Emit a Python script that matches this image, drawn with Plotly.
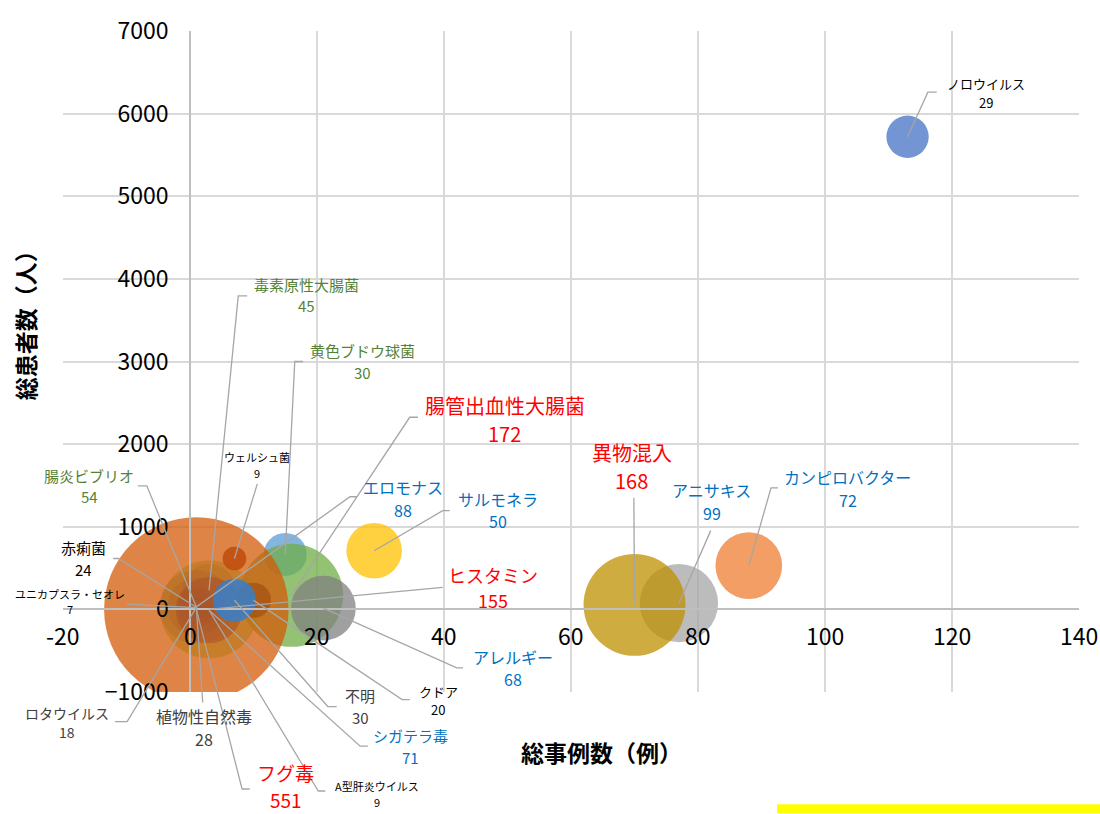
import plotly.graph_objects as go

# ---------------- data ----------------
names = ["ノロウイルス", "カンピロバクター", "アニサキス", "サルモネラ", "黄色ブドウ球菌",
         "腸管出血性大腸菌", "異物混入", "アレルギー", "フグ毒", "ヒスタミン",
         "エロモナス", "シガテラ毒", "腸炎ビブリオ", "毒素原性大腸菌", "植物性自然毒",
         "赤痢菌", "ロタウイルス", "A型肝炎ウイルス", "ユニカプスラ・セオレ", "クドア",
         "不明", "ウェルシュ菌"]
cases = [113, 88, 77, 29, 15, 16, 70, 21, 1, 3, 1, 3, 1, 3, 1, 1, 1, 3, 1, 10, 7, 7]
patients = [5720, 530, 75, 710, 665, 170, 55, 15, 0, 0, 30, -10, 30, 230, 30,
            25, 25, -10, 20, 110, 110, 615]
bubble_values = [29, 72, 99, 50, 30, 172, 168, 68, 551, 155, 88, 71, 54, 45, 28,
                 24, 18, 9, 7, 20, 30, 9]

x_ticks = [-20, 0, 20, 40, 60, 80, 100, 120, 140]
y_ticks = [-1000, 0, 1000, 2000, 3000, 4000, 5000, 6000, 7000]

# ---------------- styles ----------------
bubble_colors = ["rgba(68,114,196,0.75)", "rgba(237,125,49,0.75)", "rgba(165,165,165,0.75)",
                 "rgba(255,192,0,0.75)", "rgba(91,155,213,0.75)", "rgba(112,173,71,0.75)",
                 "rgba(191,144,0,0.75)", "rgba(128,128,128,0.75)", "rgba(211,91,8,0.75)",
                 "rgba(180,120,20,0.55)", "rgba(170,95,40,0.3)", "rgba(170,75,40,0.5)",
                 "rgba(170,85,40,0.2)", "rgba(170,85,40,0.2)", "rgba(170,85,40,0.2)",
                 "rgba(170,85,40,0.2)", "rgba(170,85,40,0.2)", "rgba(170,85,40,0.2)",
                 "rgba(170,85,40,0.2)", "rgba(158,72,14,0.6)", "rgba(60,125,195,0.9)",
                 "rgba(190,75,10,0.85)"]

RED, BLUE, GREEN, BLACK, DGRAY = "#FF0000", "#0070C0", "#548235", "#000000", "#404040"
label_colors = [BLACK, BLUE, BLUE, BLUE, GREEN, RED, RED, BLUE, RED, RED,
                BLUE, BLUE, GREEN, GREEN, DGRAY, BLACK, DGRAY, BLACK, BLACK, BLACK,
                DGRAY, BLACK]
label_sizes = [13, 16, 16, 16, 15, 20, 20, 16, 19, 18,
               16, 15, 15, 15, 16, 15, 14, 11, 11, 13,
               15, 11]
# label block centres (data units)
label_x = [125.4, 103.6, 82.2, 48.5, 27.1, 49.6, 69.6, 50.9, 15.1, 47.7,
           33.5, 34.8, -15.9, 18.4, 2.2, -16.7, -19.4, 29.4, -18.9, 39.1,
           26.8, 10.6]
label_y = [6250, 1460, 1305, 1205, 3000, 2300, 1725, -710, -2140, 265,
           1340, -1660, 1495, 3805, -1430, 615, -1370, -2235, 95, -1105,
           -1175, 1750]
# leader-line points on the label side (data units), then to the bubble centre
leader_pts = [
    [(117.6, 6260), (116.2, 6260)],
    [(92.6, 1470), (91.5, 1470)],
    [(82.0, 953)],
    [(40.9, 1195), (39.8, 1195)],
    [(17.8, 3000), (16.5, 3000)],
    [(35.9, 2325), (34.6, 2325)],
    [(69.9, 1350)],
    [(43.0, -708), (42.0, -708)],
    [(9.4, -2174), (8.2, -2174)],
    [(39.8, 267)],
    [(26.3, 1363), (25.2, 1363)],
    [(28.0, -1656), (26.8, -1656)],
    [(-8.2, 1495), (-6.8, 1495)],
    [(9.0, 3794), (7.6, 3794)],
    [(2.0, -1127)],
    [(-12.1, 616), (-11.3, 616)],
    [(-11.8, -1358), (-9.9, -1358)],
    [(21.3, -2198), (20.2, -2198)],
    [(-9.9, 63)],
    [(34.6, -1092), (33.4, -1092)],
    [(23.1, -1176), (21.7, -1176)],
    [(10.6, 1519)],
]

X_RANGE = [-20, 140]
Y_RANGE = [-1000, 7000]
FONT = "Noto Sans CJK JP"
PLOT_H = 665  # plot-area height in px
LINE_GAP = 1.42  # distance between the name line and the value line, in em


def fx(v):
    return (v - X_RANGE[0]) / (X_RANGE[1] - X_RANGE[0])


def fy(v):
    return (v - Y_RANGE[0]) / (Y_RANGE[1] - Y_RANGE[0])


K = 3.93  # px radius per sqrt(value)

fig = go.Figure()
fig.add_trace(go.Scatter(
    x=cases, y=patients, mode="markers",
    marker=dict(size=bubble_values, sizemode="area", sizeref=1.0 / (2 * K * K),
                color=bubble_colors, opacity=1, line=dict(width=0)),
    text=names, hoverinfo="text+x+y", cliponaxis=True, showlegend=False,
))

shapes = []
for i, pts in enumerate(leader_pts):
    path_pts = list(pts) + [(cases[i], patients[i])]
    path = "M " + " L ".join(f"{fx(px):.5f},{fy(py):.5f}" for px, py in path_pts)
    shapes.append(dict(type="path", xref="paper", yref="paper", path=path,
                       line=dict(color="#A6A6A6", width=1.3), layer="above"))

# yellow marker bar bottom right
shapes.append(dict(type="rect", xref="paper", yref="paper",
                   x0=0.7028, x1=1.03, y0=-0.1835, y1=-0.1699,
                   fillcolor="#FFFF00", line=dict(width=0), layer="above"))

annotations = []
for i, n in enumerate(names):
    half = LINE_GAP * label_sizes[i] / 2.0 / PLOT_H
    f = dict(family=FONT, size=label_sizes[i], color=label_colors[i])
    annotations.append(dict(
        xref="paper", yref="paper", x=fx(label_x[i]), y=fy(label_y[i]) + half,
        text=n, showarrow=False, xanchor="center", yanchor="middle", font=f,
        borderpad=0))
    annotations.append(dict(
        xref="paper", yref="paper", x=fx(label_x[i]), y=fy(label_y[i]) - half,
        text=str(bubble_values[i]), showarrow=False, xanchor="center",
        yanchor="middle", font=f, borderpad=0))

# x tick labels (placed under the crossing x axis at y = 0)
for t in x_ticks:
    annotations.append(dict(
        xref="paper", yref="paper", x=fx(t), y=fy(0) - 26.0 / PLOT_H,
        text=str(t), showarrow=False, xanchor="center", yanchor="middle",
        font=dict(family=FONT, size=23, color="#000000"),
    ))

annotations.append(dict(xref="paper", yref="paper", x=0.5305, y=-0.0902,
                        text="<b>総事例数（例）</b>", showarrow=False,
                        xanchor="center", yanchor="middle",
                        font=dict(family=FONT, size=23, color="#000000")))
annotations.append(dict(xref="paper", yref="paper", x=-0.0374, y=0.5624,
                        text="<b>総患者数（人）</b>", showarrow=False, textangle=-90,
                        xanchor="center", yanchor="middle",
                        font=dict(family=FONT, size=23, color="#000000")))

fig.update_layout(
    width=1100, height=814,
    margin=dict(l=63, r=21, t=27, b=122),
    plot_bgcolor="white", paper_bgcolor="white",
    showlegend=False,
    font=dict(family=FONT, color="#000000"),
    shapes=shapes, annotations=annotations,
    xaxis=dict(range=X_RANGE, tickvals=x_ticks, showgrid=True, gridcolor="#D9D9D9",
               gridwidth=1.5, zeroline=False, showline=True, linecolor="#BFBFBF",
               linewidth=1.5, anchor="free", position=fy(0), ticks="",
               showticklabels=False),
    yaxis=dict(range=Y_RANGE, tickvals=y_ticks, showgrid=True, gridcolor="#D9D9D9",
               gridwidth=1.5, zeroline=False, showline=True, linecolor="#BFBFBF",
               linewidth=1.5, anchor="free", position=fx(0), ticks="",
               tickfont=dict(family=FONT, size=23, color="#000000"),
               ticklabelstandoff=16),
)

fig.write_html("out.html")
